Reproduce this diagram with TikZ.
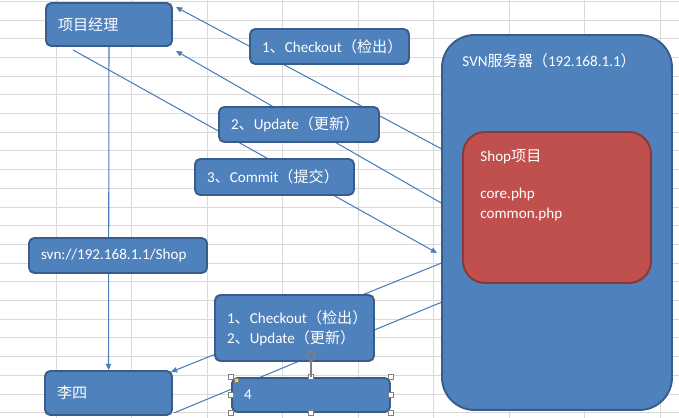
\documentclass[tikz,border=0pt]{standalone}
\usepackage{fontspec}
\setmainfont{Carlito}
\newfontfamily\zhfont{Noto Sans CJK SC}
\newcommand{\zh}[1]{{\zhfont #1}}
\usetikzlibrary{arrows.meta,calc}
\definecolor{xlblue}{HTML}{4F81BD}
\definecolor{xlborder}{HTML}{385D8A}
\definecolor{xlred}{HTML}{C0504D}
\definecolor{xlredborder}{HTML}{8C3836}
\definecolor{xlline}{HTML}{4A7EBB}
\definecolor{xlgrid}{HTML}{D9D9D9}
\pgfdeclarelayer{back}
\pgfsetlayers{back,main}

\begin{document}
\begin{tikzpicture}[x=0.02cm, y=-0.02cm, >={Triangle[length=3.5pt,width=3pt]},
  font=\fontsize{8.6}{11.2}\selectfont,
  box/.style={draw=xlborder, line width=1.1pt, fill=xlblue, rounded corners=3pt, text=white, align=left, inner xsep=0.24cm, inner ysep=0pt},
  bigbox/.style={draw=xlborder, line width=1.1pt, fill=xlblue, rounded corners=0.65cm},
  redbox/.style={draw=xlredborder, line width=1.1pt, fill=xlred, rounded corners=0.44cm},
  txt/.style={text=white, align=left, inner sep=0pt},
  conn/.style={draw=xlline, line width=0.6pt},
  grid/.style={draw=xlgrid, line width=0.5pt},
  handle/.style={draw=gray, fill=white, line width=0.4pt}]
\useasboundingbox (0,0) rectangle (679,418);
% users and commands
\node[box, text width=2.04cm, minimum height=0.86cm] (pm) at (109,24.5) {\zh{项目经理}};
\node[box, text width=2.70cm, minimum height=0.70cm] (co) at (329.5,46.5) {1\zh{、}Checkout\zh{（检出）}};
\node[box, text width=2.72cm, minimum height=0.70cm] (up) at (299,124.5) {2\zh{、}Update\zh{（更新）}};
\node[box, text width=2.70cm, minimum height=0.72cm] (cm) at (274.5,177) {3\zh{、}Commit\zh{（提交）}};
\node[box, text width=3.08cm, minimum height=0.70cm] (url) at (118,255.5) {svn://192.168.1.1/Shop};
\node[box, text width=2.70cm, minimum height=1.32cm] (cu) at (294.5,328) {1\zh{、}Checkout\zh{（检出）}\\2\zh{、}Update\zh{（更新）}};
\node[box, text width=2.06cm, minimum height=0.88cm] (ls) at (108.5,393) {\zh{李四}};
\node[box, text width=2.68cm, minimum height=0.68cm] (four) at (311,395) {4};
% server
\node[bigbox, minimum width=4.6cm, minimum height=7.5cm] (srv) at (557,222.5) {};
\node[txt, anchor=west] (srvtxt) at ([xshift=0.42cm,yshift=-0.54cm]srv.north west) {SVN\zh{服务器（}192.168.1.1\zh{）}};
\node[redbox, minimum width=3.76cm, minimum height=3.02cm] (shop) at (557,207.5) {};
\node[txt, anchor=west] (shoptxt) at ([xshift=0.36cm,yshift=-1.08cm]shop.north west) {Shop\zh{项目}\\[10.3pt]core.php\\common.php};
% selection handles
\foreach \a in {north west,north,north east,east,south east,south,south west,west}
  \draw[handle] ($(four.\a)+(-2.5,-2.5)$) rectangle ++(5,5);
\draw[gray, line width=0.6pt] (four.north) -- ++(0,-16);
\draw[gray, line width=0.8pt] ($(four.north)+(0,-21)$) circle (0.09cm);
\filldraw[fill=yellow!80!orange, draw=gray, line width=0.3pt] ($(four.north west)+(3,1)$) rectangle ++(4,4);
\begin{pgfonlayer}{back}
  \foreach \gx in {0,...,8}
    \draw[grid] (56+75.5*\gx,0) -- (56+75.5*\gx,418);
  \foreach \gy in {0,...,22}
    \draw[grid] (0,1.3+18.7*\gy) -- (679,1.3+18.7*\gy);
  \draw[conn,->] ($(srv.north west)!0.304!(srv.south west)$) -- ([shift={(3,5)}]pm.north east);
  \draw[conn,->] ($(srv.north west)!0.448!(srv.south west)$) -- ([shift={(3,4)}]pm.south east);
  \draw[conn,->] ([shift={(-36,3)}]pm.south) -- ($(srv.north west)!0.581!(srv.south west)+(-4,0)$);
  \draw[conn,->] (pm.south) -- (ls.north);
  \draw[conn,->] ($(srv.north west)!0.608!(srv.south west)$) -- ([shift={(-2,2)}]ls.north east);
  \draw[conn] ($(srv.north west)!0.712!(srv.south west)$) -- ([shift={(1,-3)}]ls.south east);
\end{pgfonlayer}
\end{tikzpicture}
\end{document}
